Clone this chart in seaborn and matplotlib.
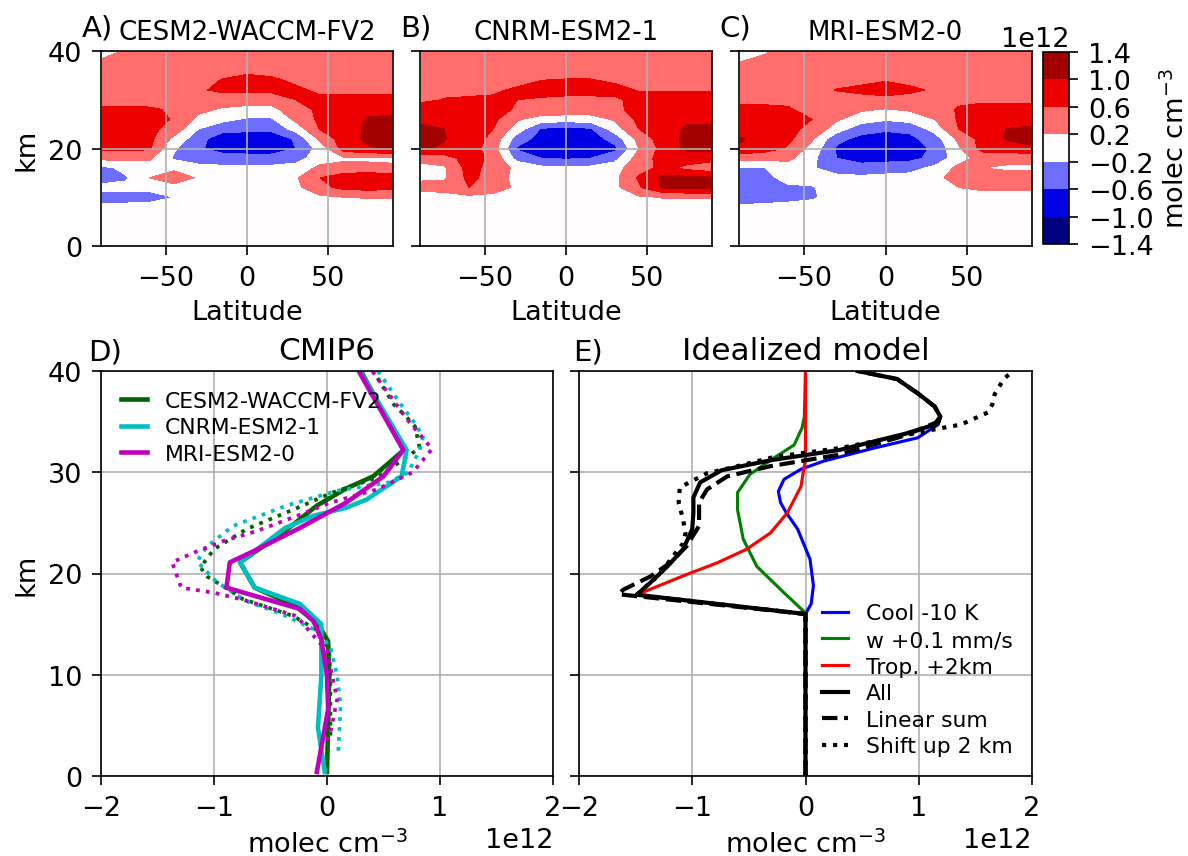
import numpy as np
import matplotlib
matplotlib.use("Agg")
import matplotlib.pyplot as plt
import seaborn as sns

plt.rcParams['font.family'] = ['DejaVu Sans']
plt.rcParams['font.size'] = 13
plt.rcParams['xtick.major.size'] = 4.5
plt.rcParams['ytick.major.size'] = 4.5
plt.rcParams['xtick.major.pad'] = 4.5
plt.rcParams['ytick.major.pad'] = 4.5

SCALE = 1e12

# ---------------- zonal-mean fields (units of 1e12 molec cm^-3) ----------------
LAT = [-89, -75, -60, -45, -30, -15, 0, 15, 30, 45, 60, 75, 89]
ALT = [0, 8, 10, 12, 14, 16, 18, 20, 22, 24, 26, 28, 30, 32, 34, 37, 40]

cesm_field = [
    [0.05, 0.03, 0.02, 0.0, 0.0, 0.0, 0.0, 0.0, 0.0, 0.0, 0.0, 0.0, 0.02],
    [-0.12, -0.1, -0.08, -0.05, 0.0, 0.0, 0.0, 0.0, 0.0, 0.03, 0.05, 0.05, 0.05],
    [-0.35, -0.35, -0.33, -0.2, 0.0, 0.0, 0.0, 0.0, 0.02, 0.12, 0.2, 0.22, 0.22],
    [-0.1, -0.1, -0.1, 0.05, 0.05, 0.0, 0.0, 0.0, 0.1, 0.5, 0.7, 0.75, 0.7],
    [-0.35, -0.25, 0.2, 0.45, 0.15, 0.0, 0.0, 0.0, 0.15, 0.6, 0.85, 0.95, 0.85],
    [-0.3, -0.1, 0.05, 0.1, -0.1, -0.1, -0.1, -0.1, -0.05, 0.3, 0.3, 0.28, 0.25],
    [0.3, 0.3, 0.25, -0.25, -0.35, -0.45, -0.45, -0.45, -0.35, 0.0, 0.15, 0.15, 0.15],
    [0.7, 0.7, 0.65, -0.15, -0.55, -0.75, -0.8, -0.8, -0.6, -0.05, 0.8, 0.95, 1.05],
    [0.75, 0.75, 0.7, 0.1, -0.45, -0.85, -0.85, -0.85, -0.55, 0.3, 0.8, 1.1, 1.15],
    [0.7, 0.7, 0.7, 0.45, -0.2, -0.45, -0.5, -0.5, -0.05, 0.62, 0.75, 1.1, 1.15],
    [0.7, 0.7, 0.7, 0.58, 0.1, -0.1, -0.25, -0.25, 0.3, 0.68, 0.75, 1.05, 1.1],
    [0.65, 0.65, 0.65, 0.55, 0.3, 0.15, 0.1, 0.1, 0.4, 0.7, 0.7, 0.85, 0.85],
    [0.5, 0.5, 0.45, 0.4, 0.4, 0.4, 0.35, 0.35, 0.6, 0.65, 0.7, 0.7, 0.7],
    [0.45, 0.45, 0.45, 0.45, 0.55, 0.68, 0.7, 0.7, 0.65, 0.55, 0.5, 0.5, 0.5],
    [0.4, 0.4, 0.4, 0.4, 0.45, 0.62, 0.7, 0.65, 0.55, 0.45, 0.4, 0.4, 0.4],
    [0.3, 0.35, 0.38, 0.4, 0.4, 0.42, 0.45, 0.45, 0.42, 0.4, 0.4, 0.4, 0.4],
    [0.1, 0.22, 0.3, 0.35, 0.35, 0.35, 0.35, 0.35, 0.35, 0.35, 0.35, 0.35, 0.35],
]

cnrm_field = [
    [0.02, 0.0, 0.0, 0.0, 0.0, 0.0, 0.0, 0.0, 0.0, 0.0, 0.0, 0.0, 0.0],
    [0.03, 0.03, 0.03, 0.02, 0.0, 0.0, 0.0, 0.0, 0.0, 0.03, 0.05, 0.05, 0.05],
    [0.05, 0.05, 0.1, 0.05, 0.02, 0.0, 0.0, 0.0, 0.02, 0.15, 0.22, 0.22, 0.22],
    [0.3, 0.35, 0.6, 0.45, 0.1, 0.0, 0.0, 0.0, 0.1, 0.55, 1.05, 1.1, 1.1],
    [0.15, 0.15, 0.7, 0.45, 0.05, 0.0, 0.0, 0.0, 0.1, 0.65, 1.1, 1.1, 1.05],
    [0.1, 0.15, 0.75, 0.45, 0.1, -0.1, -0.1, -0.1, 0.05, 0.45, 0.7, 0.5, 0.35],
    [0.3, 0.4, 0.8, 0.5, -0.35, -0.6, -0.65, -0.6, -0.35, 0.4, 0.75, 0.8, 0.75],
    [1.05, 0.95, 0.8, 0.4, -0.65, -0.8, -0.85, -0.8, -0.7, 0.2, 0.75, 1.1, 1.1],
    [1.1, 1.02, 0.8, 0.5, -0.4, -0.75, -0.85, -0.8, -0.45, 0.35, 0.8, 1.1, 1.1],
    [1.05, 1.0, 0.8, 0.6, 0.0, -0.65, -0.75, -0.65, 0.0, 0.6, 0.85, 1.05, 1.05],
    [0.95, 0.9, 0.8, 0.7, 0.25, 0.0, 0.0, 0.0, 0.25, 0.7, 0.8, 0.95, 0.95],
    [0.85, 0.8, 0.8, 0.75, 0.55, 0.5, 0.45, 0.45, 0.5, 0.75, 0.8, 0.85, 0.85],
    [0.5, 0.62, 0.65, 0.65, 0.6, 0.55, 0.5, 0.5, 0.55, 0.7, 0.7, 0.7, 0.7],
    [0.45, 0.5, 0.5, 0.55, 0.65, 0.75, 0.75, 0.75, 0.7, 0.58, 0.58, 0.58, 0.58],
    [0.4, 0.4, 0.4, 0.4, 0.5, 0.6, 0.62, 0.62, 0.55, 0.45, 0.45, 0.45, 0.45],
    [0.35, 0.4, 0.4, 0.4, 0.4, 0.4, 0.4, 0.4, 0.4, 0.4, 0.4, 0.4, 0.4],
    [0.18, 0.3, 0.35, 0.35, 0.35, 0.35, 0.35, 0.35, 0.35, 0.35, 0.35, 0.35, 0.35],
]

mri_field = [
    [0.0, 0.0, 0.0, 0.0, 0.0, 0.0, 0.0, 0.0, 0.0, 0.0, 0.0, 0.0, 0.0],
    [-0.15, -0.12, -0.1, -0.05, 0.0, 0.0, 0.0, 0.0, 0.0, 0.02, 0.02, 0.02, 0.02],
    [-0.35, -0.35, -0.3, -0.25, -0.05, 0.0, 0.0, 0.0, 0.0, 0.05, 0.1, 0.1, 0.1],
    [-0.4, -0.35, -0.25, -0.22, -0.05, 0.0, 0.0, 0.0, 0.05, 0.2, 0.25, 0.25, 0.25],
    [-0.35, -0.3, -0.1, -0.1, -0.05, -0.1, -0.05, -0.05, 0.1, 0.35, 0.4, 0.35, 0.35],
    [-0.25, -0.22, 0.0, -0.15, -0.45, -0.5, -0.45, -0.35, -0.1, 0.3, 0.2, 0.15, 0.15],
    [0.3, 0.3, 0.3, -0.1, -0.6, -0.7, -0.7, -0.7, -0.5, 0.05, 0.35, 0.3, 0.3],
    [0.95, 0.8, 0.55, 0.05, -0.65, -0.75, -0.8, -0.75, -0.55, 0.15, 0.75, 0.8, 0.95],
    [1.03, 0.9, 0.7, 0.25, -0.5, -0.7, -0.75, -0.7, -0.4, 0.3, 0.75, 1.05, 1.1],
    [0.85, 0.75, 0.7, 0.5, 0.0, -0.45, -0.55, -0.5, -0.05, 0.6, 0.75, 1.02, 1.08],
    [0.75, 0.75, 0.7, 0.6, 0.25, 0.0, -0.15, -0.05, 0.2, 0.65, 0.7, 0.75, 0.8],
    [0.7, 0.7, 0.65, 0.45, 0.35, 0.25, 0.18, 0.25, 0.35, 0.65, 0.7, 0.7, 0.7],
    [0.5, 0.5, 0.5, 0.45, 0.4, 0.45, 0.5, 0.45, 0.4, 0.5, 0.55, 0.55, 0.55],
    [0.4, 0.4, 0.4, 0.4, 0.62, 0.7, 0.75, 0.68, 0.55, 0.4, 0.4, 0.4, 0.4],
    [0.4, 0.4, 0.4, 0.4, 0.45, 0.5, 0.58, 0.5, 0.45, 0.4, 0.4, 0.4, 0.4],
    [0.25, 0.35, 0.38, 0.4, 0.4, 0.4, 0.4, 0.4, 0.4, 0.4, 0.4, 0.4, 0.4],
    [0.05, 0.15, 0.3, 0.35, 0.35, 0.35, 0.35, 0.35, 0.35, 0.35, 0.35, 0.35, 0.35],
]

model_names = ["CESM2-WACCM-FV2", "CNRM-ESM2-1", "MRI-ESM2-0"]
panel_letters_top = ["A)", "B)", "C)"]
contour_levels = [-1.4, -1.0, -0.6, -0.2, 0.2, 0.6, 1.0, 1.4]

# ---------------- D) CMIP6 tropical profiles (1e12 molec cm^-3, km) ----------------
cesm_z = [0.4, 5, 10, 13.3, 15, 16.8, 18.6, 21.1, 24.2, 26.7, 28.4, 29.6, 32.2, 40]
cesm_x = [0.0, 0.01, 0.02, 0.01, -0.08, -0.28, -0.64, -0.77, -0.37, -0.09, 0.17, 0.41, 0.68, 0.30]
cnrm_z = [0.4, 4.8, 9.9, 15, 17, 18.6, 21.1, 24.5, 25.7, 26.5, 27.3, 29.6, 32.2, 40]
cnrm_x = [-0.02, -0.08, -0.05, -0.05, -0.24, -0.64, -0.77, -0.37, -0.12, 0.17, 0.35, 0.66, 0.705, 0.29]
mri_z = [0.4, 6.6, 9.9, 13.5, 15.3, 16.5, 18.6, 21.1, 22.2, 24.5, 27.0, 29.6, 32.2, 40]
mri_x = [-0.09, 0.01, 0.0, -0.05, -0.12, -0.24, -0.89, -0.86, -0.65, -0.24, 0.17, 0.50, 0.675, 0.28]

cesm_dot_z = [4, 8.9, 12.5, 14.5, 15.8, 17.5, 18.4, 19.7, 20.6, 22.4, 24.4, 26.3, 28.0, 29.5, 32.4, 34.5, 35.5, 36.7, 40]
cesm_dot_x = [0.03, 0.03, 0.02, -0.1, -0.3, -0.75, -0.87, -1.06, -1.12, -1.0, -0.71, -0.3, 0.05, 0.45, 0.82, 0.78, 0.70, 0.59, 0.41]
cnrm_dot_z = [2.5, 6.9, 9.9, 12.8, 14.5, 16.0, 17.3, 19.2, 21.2, 22.7, 24.7, 26.7, 28.2, 29.0, 30.0, 32.2, 33.5, 34.8, 36.6, 39.2, 40]
cnrm_dot_x = [0.10, 0.12, 0.09, 0.03, -0.12, -0.4, -0.72, -0.98, -1.15, -1.06, -0.83, -0.36, 0.1, 0.55, 0.72, 0.82, 0.85, 0.78, 0.66, 0.50, 0.45]
mri_dot_z = [3.5, 4.3, 7.6, 12.3, 15.8, 17.4, 18.1, 18.6, 21.1, 22.2, 23.2, 24.2, 25.8, 27.0, 28.3, 30.0, 32.3, 35.2, 40]
mri_dot_x = [0.0, 0.03, 0.09, 0.0, -0.27, -0.74, -1.0, -1.29, -1.37, -1.15, -0.92, -0.62, -0.24, 0.03, 0.44, 0.76, 0.93, 0.71, 0.40]

# ---------------- E) Idealized model profiles ----------------
cool_z = [0, 16, 17, 18.8, 21.4, 24.4, 26, 27, 28.1, 29.3, 30.3, 31.1, 32.4, 33.4, 34.7, 35.5, 36.5, 37.8, 39.2, 40]
cool_x = [0, 0, 0.05, 0.07, 0.04, -0.07, -0.17, -0.22, -0.24, -0.19, -0.04, 0.16, 0.61, 0.99, 1.17, 1.19, 1.14, 0.99, 0.81, 0.46]
w_z = [0, 16.1, 18.1, 20.7, 23.4, 26.3, 28.0, 29.8, 31.4, 32.7, 34.4, 35.5, 40]
w_x = [0, 0, -0.19, -0.43, -0.55, -0.60, -0.60, -0.49, -0.28, -0.10, -0.03, -0.01, 0]
trop_z = [0, 16, 17.9, 19.9, 21.05, 22.4, 24.0, 26.0, 28.6, 31.3, 40]
trop_x = [0, 0, -1.49, -1.05, -0.78, -0.52, -0.31, -0.16, -0.04, 0, 0]
all_z = [0, 16, 17.9, 19.4, 20.7, 22.4, 24.4, 26.0, 27.5, 29.0, 30.2, 31.2, 32.2, 33.8, 34.8, 35.5, 36.5, 37.8, 39.2, 40]
all_x = [0, 0, -1.49, -1.34, -1.22, -1.08, -1.0, -0.99, -0.99, -0.93, -0.74, -0.3, 0.3, 0.88, 1.17, 1.19, 1.14, 0.99, 0.81, 0.46]
lin_z = [0, 16, 17.95, 18.4, 19.7, 21.1, 22.7, 24.7, 27.0, 28.3, 29.6, 30.6, 31.7, 33.6, 34.9, 35.5, 36.5, 37.8, 39.2, 40]
lin_x = [0, 0, -1.65, -1.61, -1.37, -1.19, -1.05, -0.94, -0.94, -0.87, -0.69, -0.31, 0.28, 0.87, 1.15, 1.19, 1.14, 0.99, 0.81, 0.46]
shift_z = [0, 16, 17.9, 19.8, 21.7, 23.0, 24.0, 25.3, 27.0, 28.5, 29.9, 30.6, 31.5, 32.4, 33.7, 34.3, 34.7, 35.9, 36.7, 37.7, 39.2, 40]
shift_x = [0, 0, -1.49, -1.3, -1.17, -1.08, -1.06, -1.08, -1.12, -1.11, -0.87, -0.6, -0.28, 0.31, 0.90, 1.17, 1.37, 1.61, 1.65, 1.67, 1.75, 1.83]

# ---------------- figure ----------------
W, H = 1188, 857
fig = plt.figure(figsize=(W / 150, H / 150), dpi=150)


def axpos(x0, x1, y0, y1):
    return [x0 / W, 1 - y1 / H, (x1 - x0) / W, (y1 - y0) / H]


def letter(ax, txt, dx_px, dy_px):
    ax.annotate(txt, xy=(0, 1), xycoords="axes fraction",
                xytext=(dx_px * 0.48, dy_px * 0.48), textcoords="offset points",
                fontsize=14, ha="left", va="baseline")


levels = np.array(contour_levels) * SCALE
fields = [cesm_field, cnrm_field, mri_field]
top_x = [(101, 393), (420, 712), (739, 1032)]
cs = None
for i, (fld, name, let, (x0, x1)) in enumerate(zip(fields, model_names, panel_letters_top, top_x)):
    ax = fig.add_axes(axpos(x0, x1, 52, 247))
    cs = ax.contourf(LAT, ALT, np.array(fld) * SCALE, levels=levels, cmap="seismic")
    ax.set_xlim(-90, 90)
    ax.set_ylim(0, 40)
    ax.set_xticks([-50, 0, 50])
    ax.set_yticks([0, 20, 40])
    ax.grid(True)
    ax.set_xlabel("Latitude")
    ax.set_title(name, fontsize=12.5)
    letter(ax, let, -19.5, 15)
    if i == 0:
        ax.set_ylabel("km")
    else:
        ax.tick_params(labelleft=False)

cax = fig.add_axes(axpos(1043, 1069, 53, 245))
cb = fig.colorbar(cs, cax=cax, ticks=levels)
cb.set_label("molec cm$^{-3}$")


def prof(ax, xs, zs, color, lw, ls="-", label=None):
    sns.lineplot(x=np.array(xs) * SCALE, y=np.array(zs), orient="y", sort=False,
                 estimator=None, color=color, lw=lw, linestyle=ls, label=label, ax=ax)


# D) CMIP6
axD = fig.add_axes(axpos(101, 553, 372, 777))
prof(axD, cesm_x, cesm_z, "darkgreen", 2.2, label="CESM2-WACCM-FV2")
prof(axD, cesm_dot_x, cesm_dot_z, "darkgreen", 1.8, ":")
prof(axD, cnrm_x, cnrm_z, "c", 2.2, label="CNRM-ESM2-1")
prof(axD, cnrm_dot_x, cnrm_dot_z, "c", 1.8, ":")
prof(axD, mri_x, mri_z, "m", 2.2, label="MRI-ESM2-0")
prof(axD, mri_dot_x, mri_dot_z, "m", 1.8, ":")
axD.legend(loc="upper left", frameon=False, fontsize=10.5, handlelength=1.2, labelspacing=0.3)

# E) Idealized model
axE = fig.add_axes(axpos(579, 1032, 372, 777))
prof(axE, cool_x, cool_z, "b", 1.5, label="Cool -10 K")
prof(axE, w_x, w_z, "g", 1.5, label="w +0.1 mm/s")
prof(axE, trop_x, trop_z, "r", 1.5, label="Trop. +2km")
prof(axE, all_x, all_z, "k", 2.0, label="All")
prof(axE, lin_x, lin_z, "k", 2.0, "--", label="Linear sum")
prof(axE, shift_x, shift_z, "k", 2.0, ":", label="Shift up 2 km")
axE.legend(loc="lower right", frameon=False, fontsize=10.5, handlelength=1.2, labelspacing=0.3)

for ax, title, let, dx in [(axD, "CMIP6", "D)", -13), (axE, "Idealized model", "E)", -6)]:
    ax.set_xlim(-2 * SCALE, 2 * SCALE)
    ax.set_ylim(0, 40)
    ax.set_xticks(np.arange(-2, 3) * SCALE)
    ax.set_yticks([0, 10, 20, 30, 40])
    ax.grid(True)
    ax.set_xlabel("molec cm$^{-3}$")
    ax.set_title(title, fontsize=15)
    letter(ax, let, dx, 12)

axD.set_ylabel("km")
axE.set_ylabel("")
axE.tick_params(labelleft=False)

fig.savefig("out.png", dpi=150)
